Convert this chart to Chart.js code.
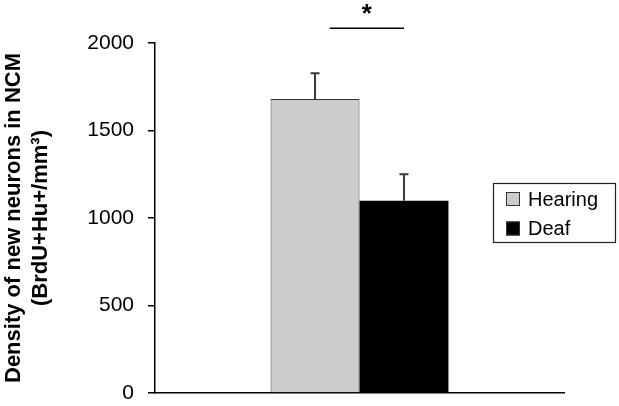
<!DOCTYPE html>
<html>
<head>
<meta charset="utf-8">
<script src="https://cdn.jsdelivr.net/npm/chart.js@4/dist/chart.umd.min.js"></script>
<style>
  html, body { margin: 0; padding: 0; background: #fff; }
  #wrap { width: 619px; height: 406px; position: relative; }
</style>
</head>
<body>
<div id="wrap"><canvas id="c" width="619" height="406"></canvas></div>
<script>
const categories = [''];
const seriesLabels = ['Hearing', 'Deaf'];
const hearingValues = [1680];
const deafValues = [1099];
const hearingErrors = [147];
const deafErrors = [151];
const yTicks = [0, 500, 1000, 1500, 2000];
const significanceLevel = [2085];
const significanceMark = '*';

const FONT = '"Liberation Sans", Arial, sans-serif';

const errorBarPlugin = {
  id: 'errorBars',
  afterDatasetsDraw(chart) {
    const ctx = chart.ctx;
    const y = chart.scales.y;
    const errs = [hearingErrors, deafErrors];
    chart.data.datasets.forEach((ds, i) => {
      const meta = chart.getDatasetMeta(i);
      meta.data.forEach((bar, j) => {
        const top = y.getPixelForValue(ds.data[j] + errs[i][j]);
        ctx.save();
        ctx.strokeStyle = '#3a3a3a';
        ctx.lineWidth = 2;
        ctx.beginPath();
        ctx.moveTo(bar.x, bar.y);
        ctx.lineTo(bar.x, top);
        ctx.moveTo(bar.x - 4.5, top);
        ctx.lineTo(bar.x + 4.5, top);
        ctx.stroke();
        ctx.restore();
      });
    });
  },
  afterDraw(chart) {
    const ctx = chart.ctx;
    const y = chart.scales.y;
    const b0 = chart.getDatasetMeta(0).data[0];
    const b1 = chart.getDatasetMeta(1).data[0];
    const x1 = b0.x + b0.width / 6;
    const x2 = b1.x;
    const ly = y.getPixelForValue(significanceLevel[0]);
    ctx.save();
    ctx.strokeStyle = '#000';
    ctx.lineWidth = 1.5;
    ctx.beginPath();
    ctx.moveTo(x1, ly);
    ctx.lineTo(x2, ly);
    ctx.stroke();
    ctx.fillStyle = '#000';
    ctx.font = 'bold 26px ' + FONT;
    ctx.textAlign = 'center';
    ctx.textBaseline = 'alphabetic';
    ctx.fillText(significanceMark, (x1 + x2) / 2, ly - 6);

    // legend
    const lx = 493, ly0 = 183, lw = 122, lh = 59;
    ctx.lineWidth = 1.2;
    ctx.strokeStyle = '#222';
    ctx.strokeRect(lx + 0.5, ly0 + 0.5, lw, lh);
    chart.data.datasets.forEach((ds, i) => {
      const cy = ly0 + 16 + i * 29.5;
      ctx.fillStyle = ds.backgroundColor;
      ctx.fillRect(lx + 13, cy - 7, 14, 14);
      ctx.strokeStyle = '#333';
      ctx.lineWidth = 1;
      ctx.strokeRect(lx + 13.5, cy - 6.5, 13, 13);
      ctx.fillStyle = '#000';
      ctx.font = '20px ' + FONT;
      ctx.textAlign = 'left';
      ctx.textBaseline = 'middle';
      ctx.fillText(ds.label, lx + 35, cy + 1);
    });
    ctx.restore();
  }
};

new Chart(document.getElementById('c'), {
  type: 'bar',
  data: {
    labels: categories,
    datasets: [
      { label: seriesLabels[0], data: hearingValues, backgroundColor: '#cccccc', borderColor: '#333', borderWidth: 1 },
      { label: seriesLabels[1], data: deafValues, backgroundColor: '#000000', borderColor: '#000', borderWidth: 0 }
    ]
  },
  options: {
    responsive: false,
    animation: false,
    devicePixelRatio: 1,
    layout: { padding: { top: 43, right: 55, left: 0, bottom: 0 } },
    datasets: { bar: { categoryPercentage: 0.435, barPercentage: 1 } },
    plugins: { legend: { display: false }, tooltip: { enabled: false } },
    scales: {
      x: {
        ticks: { display: false },
        grid: { display: true, drawOnChartArea: false, drawTicks: false },
        border: { display: true, color: '#000', width: 1.5 },
        afterFit(s) { s.height = 13; s.paddingLeft = 0; s.paddingRight = 0; }
      },
      y: {
        min: 0, max: 2000,
        afterBuildTicks(s) { s.ticks = yTicks.map(v => ({ value: v })); },
        ticks: { color: '#000', font: { family: FONT, size: 21 }, padding: 14, callback: v => String(v) },
        grid: { drawOnChartArea: false, drawTicks: true, tickLength: 7, color: '#000', lineWidth: 1.5 },
        border: { display: true, color: '#000', width: 1.5 },
        title: {
          display: true,
          text: ['Density of new neurons in NCM', '(BrdU+Hu+/mm³)'],
          color: '#000',
          font: { family: FONT, size: 22, weight: 'bold' },
          padding: { top: 1, bottom: 0 }
        },
        afterFit(s) { s.width = 155; s.paddingTop = 0; s.paddingBottom = 0; }
      }
    }
  },
  plugins: [errorBarPlugin]
});
</script>
</body>
</html>
